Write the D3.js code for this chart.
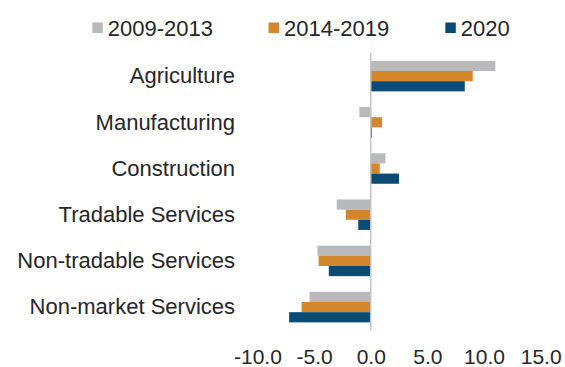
<!DOCTYPE html>
<html>
<head>
<meta charset="utf-8">
<script src="https://cdn.jsdelivr.net/npm/d3@7"></script>
<style>
  html, body { margin: 0; padding: 0; background: #fff; }
  svg { display: block; font-family: "Liberation Sans", Arial, sans-serif; }
</style>
</head>
<body>
<svg id="chart" width="565" height="367"></svg>
<script>
// Sectors, top to bottom
const categories = [
  "Agriculture",
  "Manufacturing",
  "Construction",
  "Tradable Services",
  "Non-tradable Services",
  "Non-market Services"
];
const seriesNames = ["2009-2013", "2014-2019", "2020"];
const values2009_2013 = [11.0, -1.0, 1.3, -3.0, -4.7, -5.4];
const values2014_2019 = [9.0, 1.0, 0.8, -2.2, -4.6, -6.1];
const values2020      = [8.3, 0.1, 2.5, -1.1, -3.7, -7.2];
const tickValues = [-10, -5, 0, 5, 10, 15];
const seriesColors = ["#b8b9bb", "#d4872a", "#0a4a73"];

const seriesValues = [values2009_2013, values2014_2019, values2020];
const rows = categories.map((c, i) => ({
  category: c,
  values: seriesNames.map((s, j) => ({ series: s, value: seriesValues[j][i], color: seriesColors[j] }))
}));

const svg = d3.select("#chart");

const x = d3.scaleLinear().domain([-10, 15]).range([257.4, 540.7]);
const y = d3.scaleBand().domain(categories).range([53, 330.2]).paddingInner(0).paddingOuter(0);
const groupH = 30.5;
const ySeries = d3.scaleBand().domain(seriesNames).range([0, groupH]);

// Bars
const groups = svg.append("g")
  .selectAll("g")
  .data(rows)
  .join("g")
  .attr("transform", d => `translate(0,${y(d.category) + (y.bandwidth() - groupH) / 2})`);

groups.selectAll("rect")
  .data(d => d.values)
  .join("rect")
  .attr("x", d => x(Math.min(0, d.value)))
  .attr("y", d => ySeries(d.series))
  .attr("width", d => Math.abs(x(d.value) - x(0)))
  .attr("height", ySeries.bandwidth())
  .attr("fill", d => d.color);

// Zero line
svg.append("line")
  .attr("x1", x(0)).attr("x2", x(0))
  .attr("y1", y.range()[0]).attr("y2", y.range()[1])
  .attr("stroke", "#c4c4c4")
  .attr("stroke-width", 1.5);

// Category labels
const yAxis = d3.axisLeft(y).tickSize(0).tickPadding(0);
const yAxisG = svg.append("g")
  .attr("transform", "translate(235,0)")
  .call(yAxis);
yAxisG.select(".domain").remove();
yAxisG.selectAll("text")
  .attr("font-size", 22)
  .attr("font-family", "Liberation Sans, Arial, sans-serif")
  .attr("fill", "#262626")
  .attr("dy", "0.33em");

// Value axis labels
const xAxis = d3.axisBottom(x).tickValues(tickValues).tickSize(0).tickPadding(0)
  .tickFormat(d => d3.format(".1f")(d).replace("−", "-"));
const xAxisG = svg.append("g")
  .attr("transform", "translate(0,348.5)")
  .call(xAxis);
xAxisG.select(".domain").remove();
xAxisG.selectAll("text")
  .attr("font-size", 21)
  .attr("font-family", "Liberation Sans, Arial, sans-serif")
  .attr("fill", "#262626")
  .attr("dy", "0.75em");

// Legend
const legendX = [92.3, 268.5, 445.3];
const legend = svg.append("g")
  .selectAll("g")
  .data(seriesNames)
  .join("g")
  .attr("transform", (d, i) => `translate(${legendX[i]},0)`);
legend.append("rect")
  .attr("x", 0).attr("y", 22.5)
  .attr("width", 10.5).attr("height", 10.5)
  .attr("fill", (d, i) => seriesColors[i]);
legend.append("text")
  .attr("x", 15.5)
  .attr("y", 36)
  .attr("font-size", 22)
  .attr("fill", "#262626")
  .text(d => d);
</script>
</body>
</html>
